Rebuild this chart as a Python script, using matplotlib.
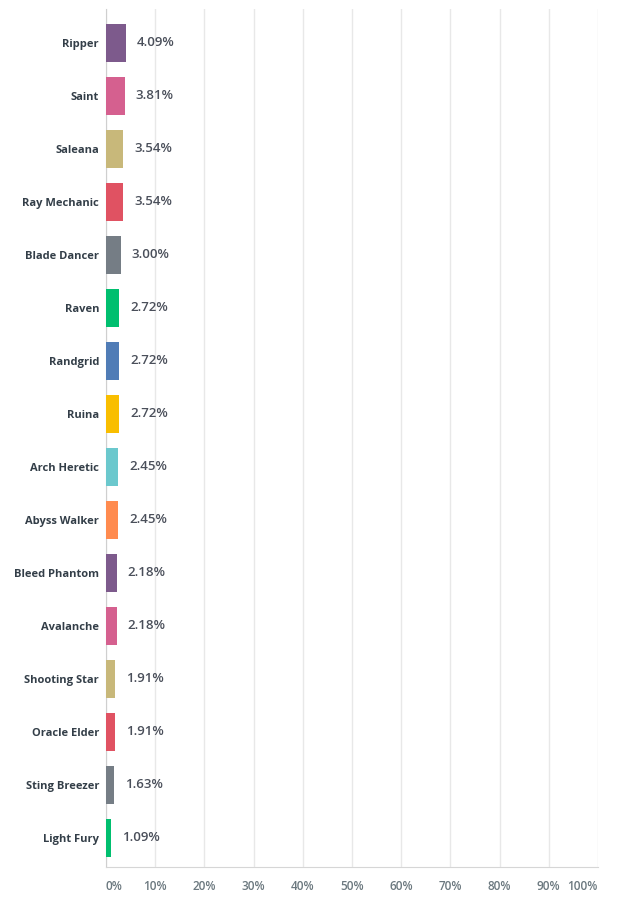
import matplotlib
matplotlib.use("Agg")
import matplotlib.pyplot as plt
from matplotlib.transforms import offset_copy

categories = ["Ripper", "Saint", "Saleana", "Ray Mechanic", "Blade Dancer", "Raven",
              "Randgrid", "Ruina", "Arch Heretic", "Abyss Walker", "Bleed Phantom",
              "Avalanche", "Shooting Star", "Oracle Elder", "Sting Breezer", "Light Fury"]
values = [4.09, 3.81, 3.54, 3.54, 3.00, 2.72, 2.72, 2.72, 2.45, 2.45, 2.18, 2.18,
          1.91, 1.91, 1.63, 1.09]
palette = ["#7D5A8C", "#D5608F", "#C8B87A", "#E05262", "#757D85", "#00BF6F",
           "#507CB6", "#F9BE00", "#6BC8CD", "#FF8B4F"]
ticks = [0, 10, 20, 30, 40, 50, 60, 70, 80, 90, 100]
tick_labels = [f"{t}%" for t in ticks]

plt.rcParams['font.family'] = ['Open Sans', 'DejaVu Sans']

fig = plt.figure(figsize=(6.37, 9.0), dpi=100)
ax = fig.add_axes([106/637, 33/900, 492/637, 858/900])

colors = [palette[i % len(palette)] for i in range(len(categories))]
ypos = list(range(len(categories)))
ax.barh(ypos, values, height=0.73, color=colors, zorder=3)

ax.set_xlim(0, 100)
ax.set_ylim(15.55, -0.64)
ax.set_yticks(ypos)
ax.set_yticklabels(categories, fontsize=8, fontweight='bold', color='#333e48')
ax.tick_params(axis='y', length=0, pad=5)

ax.set_xticks(ticks)
ax.set_xticklabels([])
ax.tick_params(axis='x', length=0)
for t, lab in zip(ticks, tick_labels):
    ha = 'center'
    if t == 0:
        ha = 'left'
    elif t == 100:
        ha = 'right'
    ax.text(t, -0.015, lab, transform=ax.get_xaxis_transform(), ha=ha, va='top',
            fontsize=8.5, fontweight='semibold', color='#6b787f')

ax.grid(axis='x', color='#e8e8e8', linewidth=1, zorder=0)
for s in ['top', 'right']:
    ax.spines[s].set_visible(False)
ax.spines['left'].set_color('#cfcfcf')
ax.spines['bottom'].set_color('#d6d6d6')

for y, v in zip(ypos, values):
    tr = offset_copy(ax.transData, fig=fig, x=11, y=0, units='dots')
    ax.text(v, y, f"{v:.2f}%", transform=tr, ha='left', va='center',
            fontsize=9.5, fontweight='semibold', color='#4a4f5a')

fig.savefig("out.png", dpi=100, facecolor='white')
